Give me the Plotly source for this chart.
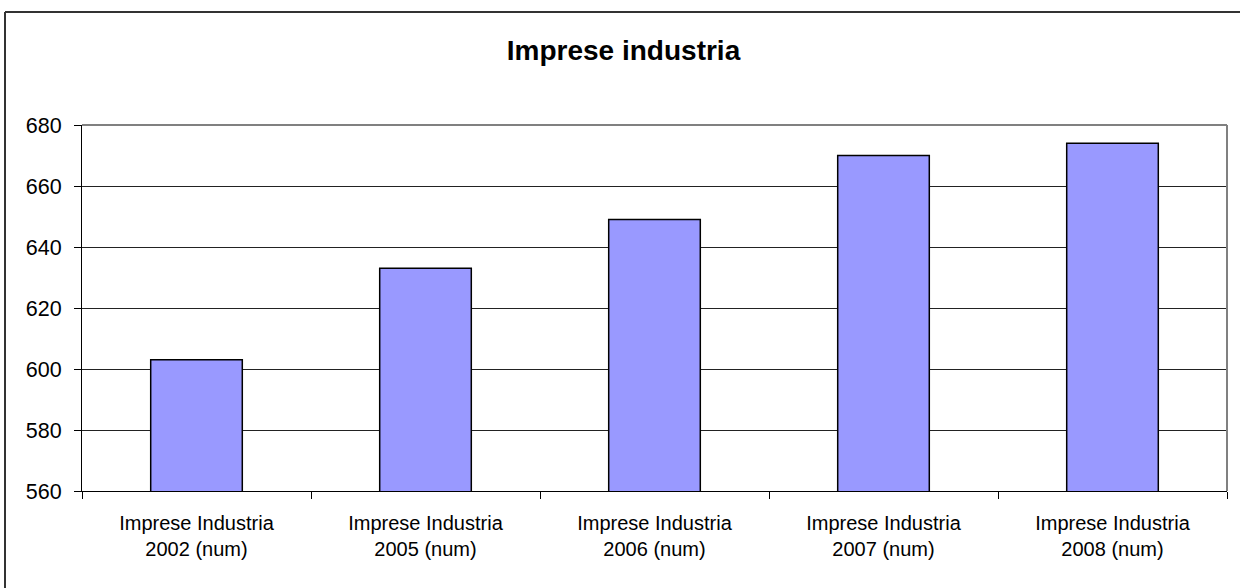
import plotly.graph_objects as go

# Data
categories = [
    "Imprese Industria<br>2002 (num)",
    "Imprese Industria<br>2005 (num)",
    "Imprese Industria<br>2006 (num)",
    "Imprese Industria<br>2007 (num)",
    "Imprese Industria<br>2008 (num)",
]
values = [603, 633, 649, 670, 674]
y_ticks = [560, 580, 600, 620, 640, 660, 680]

W, H = 1240, 588
ML, MR, MT, MB = 82, 13, 125, 97
pw = W - ML - MR
ph = H - MT - MB


def px_to_paper_x(px):
    return (px - ML) / pw


def px_to_paper_y(py):
    return (H - MB - py) / ph


FONT = "Liberation Sans, Arial, sans-serif"

fig = go.Figure(
    go.Bar(
        x=categories,
        y=values,
        width=0.4,
        marker=dict(color="#9999FF", line=dict(color="#000000", width=1.5)),
        hoverinfo="x+y",
    )
)

fig.update_layout(
    width=W,
    height=H,
    margin=dict(l=ML, r=MR, t=MT, b=MB, pad=0),
    paper_bgcolor="white",
    plot_bgcolor="white",
    showlegend=False,
    title=dict(
        text="<b>Imprese industria</b>",
        font=dict(family=FONT, size=28, color="#000000"),
        x=623.5 / W,
        xref="container",
        xanchor="center",
        y=1 - 50 / H,
        yref="container",
        yanchor="middle",
    ),
    font=dict(family=FONT, color="#000000"),
    bargap=0.6,
)

fig.update_xaxes(
    type="category",
    tickson="boundaries",
    ticks="outside",
    ticklen=7,
    tickwidth=1,
    tickcolor="#000000",
    showline=True,
    linecolor="#000000",
    linewidth=1,
    showgrid=False,
    ticklabelstandoff=14,
    tickfont=dict(family=FONT, size=20, color="#000000"),
    fixedrange=True,
)

fig.update_yaxes(
    range=[560, 680],
    tickvals=y_ticks,
    ticks="outside",
    ticklen=7,
    tickwidth=1,
    tickcolor="#000000",
    showline=True,
    linecolor="#000000",
    linewidth=1,
    showgrid=True,
    gridcolor="#222222",
    gridwidth=1,
    zeroline=False,
    ticklabelstandoff=8,
    tickfont=dict(family=FONT, size=21.5, color="#000000"),
    fixedrange=True,
)

# Plot-area frame (top and right edges in grey)
fig.add_shape(type="line", xref="paper", yref="paper", x0=0, x1=1, y0=1, y1=1,
              line=dict(color="#808080", width=2), layer="above")
fig.add_shape(type="line", xref="paper", yref="paper", x0=1, x1=1, y0=0, y1=1,
              line=dict(color="#808080", width=2), layer="above")

# Outer chart-area border (left and top edges)
bx = px_to_paper_x(5)
by = px_to_paper_y(12)
fig.add_shape(type="line", xref="paper", yref="paper",
              x0=bx, x1=px_to_paper_x(W + 5), y0=by, y1=by,
              line=dict(color="#333333", width=2))
fig.add_shape(type="line", xref="paper", yref="paper",
              x0=bx, x1=bx, y0=by, y1=px_to_paper_y(H + 5),
              line=dict(color="#333333", width=2))

fig.write_html("out.html", config={"displayModeBar": False})
